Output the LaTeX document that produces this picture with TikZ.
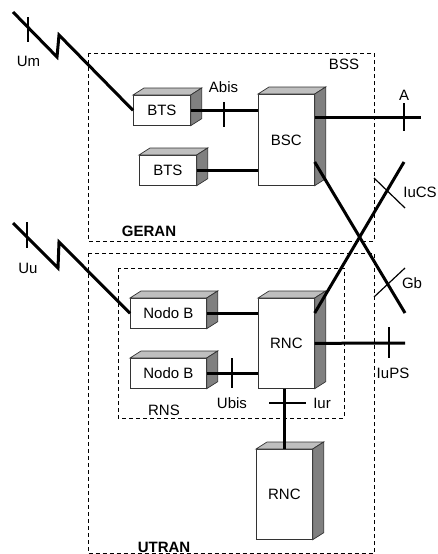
\documentclass[tikz,border=0pt]{standalone}
\usepackage{fontspec}
\setmainfont{Liberation Sans}
\begin{document}
\begin{tikzpicture}[x=1pt,y=-1pt,
  front/.style={draw=black!80, fill=white, line width=0.7pt, inner sep=0pt,
    font=\fontsize{15}{18}\selectfont, anchor=north west},
  dbox/.style={draw=black, line width=0.8pt, dash pattern=on 4pt off 3pt},
  link/.style={line width=3pt, line join=miter},
  tick/.style={line width=1.2pt},
  lbl/.style={font=\fontsize{15}{18}\selectfont, inner sep=0pt},
  blbl/.style={font=\fontsize{15}{18}\selectfont\bfseries, inner sep=0pt},
  topface/.style={fill=black!25, draw=black!80, line width=0.7pt},
  sideface/.style={fill=black!50, draw=black!80, line width=0.7pt}]
\useasboundingbox (0,0) rectangle (437,554);
\newcommand\cubefaces[1]{%
  \filldraw[topface] (#1.north west) -- ++(11,-7) -- ([shift={(11pt,7pt)}]#1.north east) -- (#1.north east) -- cycle;
  \filldraw[sideface] (#1.north east) -- ([shift={(11pt,7pt)}]#1.north east) -- ([shift={(11pt,7pt)}]#1.south east) -- (#1.south east) -- cycle;}

% dashed areas
\draw[dbox] (88,53) rectangle (374,241);
\draw[dbox] (88,253) rectangle (374,553.5);
\draw[dbox] (118,268) rectangle (344,418);

% equipment
\node[front, minimum width=57pt, minimum height=30pt] (bts1) at (133,95) {BTS};
\node[front, minimum width=57pt, minimum height=30pt] (bts2) at (139,155) {BTS};
\node[front, minimum width=56pt, minimum height=91pt] (bsc) at (258,94) {BSC};
\node[front, minimum width=76pt, minimum height=30pt] (nb1) at (130,298) {Nodo B};
\node[front, minimum width=76pt, minimum height=30pt] (nb2) at (130,358) {Nodo B};
\node[front, minimum width=56pt, minimum height=90pt] (rnc1) at (258,298) {RNC};
\node[front, minimum width=56pt, minimum height=90pt] (rnc2) at (256,449) {RNC};
\cubefaces{bts1}
\cubefaces{bts2}
\cubefaces{bsc}
\cubefaces{nb1}
\cubefaces{nb2}
\cubefaces{rnc1}
\cubefaces{rnc2}

% free ends
\coordinate (umstart) at (13,12);
\coordinate (uustart) at (13,223);
\coordinate (aend) at (421,117);
\coordinate (gbend) at (405,313);
\coordinate (iucsend) at (404,162);
\coordinate (iupsend) at (405,343);

% links
\draw[link] (umstart) -- (57,57) -- (59,35) -- (bts1.west);
\draw[link] (uustart) -- (58,268) -- (59,242) -- (nb1.west);
\draw[link] (bts1.east) -- (bts1.east -| bsc.west);
\draw[link] (bts2.east) -- (bts2.east -| bsc.west);
\draw[link] ([yshift=-23pt]bsc.north east) -- (aend);
\draw[link] ([yshift=-68pt]bsc.north east) -- (gbend);
\draw[link] ([yshift=-15pt]rnc1.north east) -- (iucsend);
\draw[link] (nb1.east) -- (nb1.east -| rnc1.west);
\draw[link] (nb2.east) -- (nb2.east -| rnc1.west);
\draw[link] (rnc1.east) -- (iupsend);
\draw[link] (rnc2.north |- rnc1.south) -- (rnc2.north);

% interface ticks
\draw[tick] (28,17) -- (28,42);
\draw[tick] (27,222) -- (27,248);
\draw[tick] (224,102) -- (224,127);
\draw[tick] (404,103) -- (404,131);
\draw[tick] (374,178) -- (405,208);
\draw[tick] (374,297) -- (405,268);
\draw[tick] (389,327) -- (389,358);
\draw[tick] (232,358) -- (232,388);
\draw[tick] (269,403) -- (306,403);

% labels
\node[lbl] (lum) at (28.5,61) {Um};
\node[lbl] (luu) at (28,268) {Uu};
\node[lbl] (labis) at (223.5,87) {Abis};
\node[lbl] (lbss) at (344,64) {BSS};
\node[lbl] (la) at (404,95) {A};
\node[lbl] (liucs) at (420,192) {IuCS};
\node[lbl] (lgb) at (412,283) {Gb};
\node[lbl] (liups) at (393,373) {IuPS};
\node[lbl] (liur) at (322,403) {Iur};
\node[lbl] (lubis) at (232,403) {Ubis};
\node[lbl] (lrns) at (164,410) {RNS};
\node[blbl] (lgeran) at (149,231) {GERAN};
\node[blbl] (lutran) at (164,547) {UTRAN};
\end{tikzpicture}
\end{document}
